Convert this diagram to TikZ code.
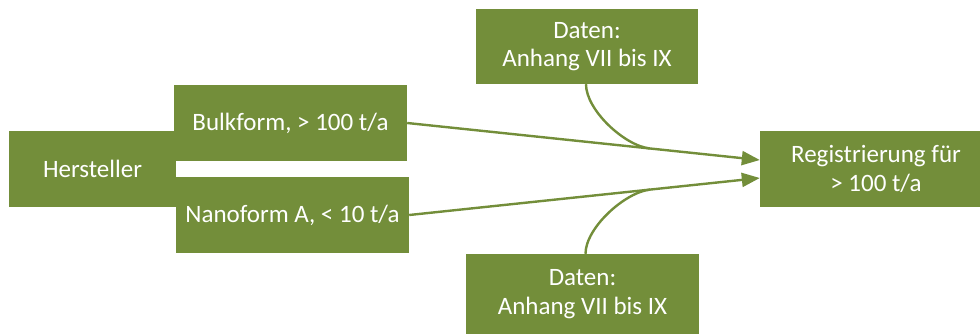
\documentclass[tikz,border=0pt]{standalone}
\usepackage{fontspec}
\setmainfont{Carlito}
\usetikzlibrary{arrows.meta,calc}
\definecolor{olive}{RGB}{115,142,58}
\begin{document}
\begin{tikzpicture}[x=1pt,y=-1pt,
  box/.style={fill=olive,text=white,inner sep=0pt,align=center,
    font=\fontsize{25}{28.5}\selectfont},
  link/.style={draw=olive,line width=2.4pt},
  arr/.style={link,-{Triangle[length=18pt,width=14pt]}}]
\useasboundingbox (0,0) rectangle (980,335);
\clip (0,0) rectangle (980,335);
% source boxes
\node[box,minimum width=233pt,minimum height=76pt] (bulk) at (290.5,123) {Bulkform, > 100 t/a};
\node[box,minimum width=233pt,minimum height=76pt] (nano) at (292.5,215) {Nanoform A, < 10 t/a};
\node[box,minimum width=167pt,minimum height=76pt] (herst) at (92.5,169) {Hersteller};
% target box
\node[box,minimum width=232pt,minimum height=76pt] (reg) at (876,169) {Registrierung für\\> 100 t/a};
% data requirement boxes
\node[box,minimum width=222pt,minimum height=75pt] (dtop) at (587,46.5) {Daten:\\Anhang VII bis IX};
\node[box,minimum width=233pt,minimum height=80pt] (dbot) at (582.5,294) {Daten:\\Anhang VII bis IX};
% arrow ends on the target
\coordinate (ta) at ([yshift=9pt]reg.west);
\coordinate (tb) at ([yshift=-9pt]reg.west);
\draw[arr] (bulk.east) -- (ta);
\draw[arr] (nano.east) -- (tb);
% merge points of the data curves
\coordinate (ma) at ($(bulk.east)!0.688!(ta)$);
\coordinate (mb) at ($(nano.east)!0.687!(tb)$);
\draw[link] ([xshift=-1pt]dtop.south) .. controls ($([xshift=-1pt]dtop.south)+(0,26)$) and ($(ma)+(-25,-2.6)$) .. (ma);
\draw[link] ([xshift=3pt]dbot.north) .. controls ($([xshift=3pt]dbot.north)+(0,-26)$) and ($(mb)+(-25,2.6)$) .. (mb);
\end{tikzpicture}
\end{document}
